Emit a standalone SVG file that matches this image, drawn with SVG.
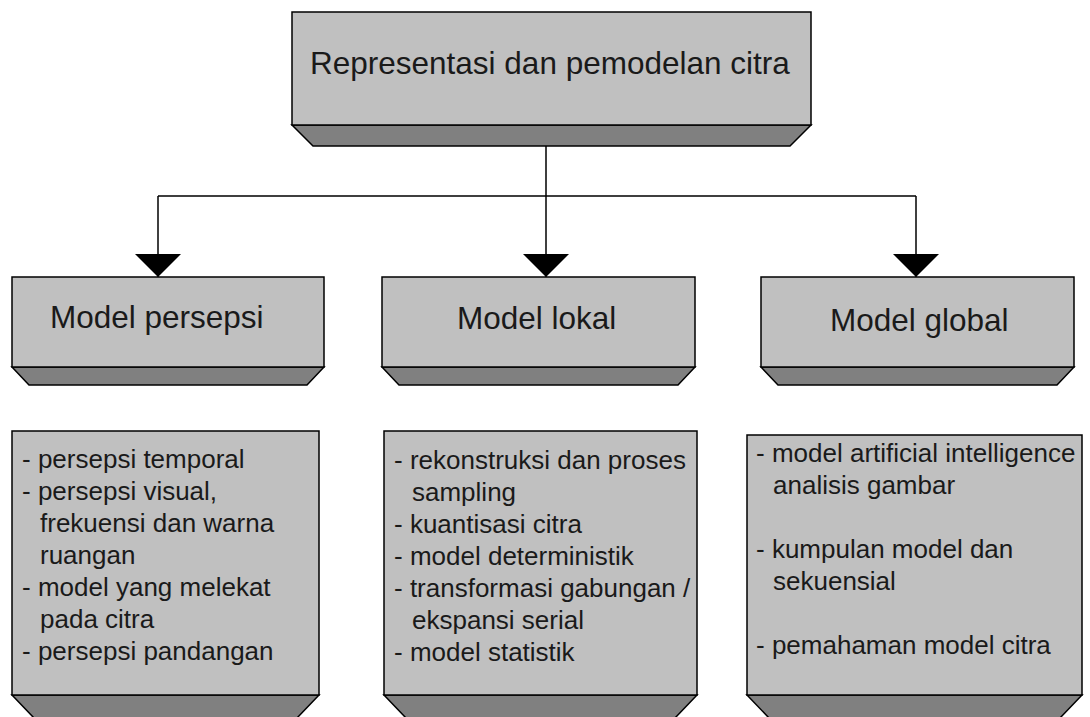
<svg xmlns="http://www.w3.org/2000/svg" width="1090" height="717" viewBox="0 0 1090 717">
  <style>
    .face { fill: #c0c0c0; stroke: #000; stroke-width: 1.5; }
    .bevel { fill: #808080; stroke: #000; stroke-width: 1.5; stroke-linejoin: miter; }
    .title { font-family: "Liberation Sans", Arial, sans-serif; font-size: 31.5px; fill: #1a1a1a; }
    .head { font-family: "Liberation Sans", Arial, sans-serif; font-size: 31.5px; fill: #1a1a1a; }
    .item { font-family: "Liberation Sans", Arial, sans-serif; font-size: 26px; fill: #1a1a1a; }
    .link { fill: none; stroke: #000; stroke-width: 1.5; }
  </style>
  <defs>
    <marker id="arrow" markerUnits="userSpaceOnUse" markerWidth="24" markerHeight="46" viewBox="0 0 24 46" refX="23" refY="23" orient="auto">
      <path d="M0,0 L23,23 L0,46 Z" fill="#000"/>
    </marker>
  </defs>
  <rect width="1090" height="717" fill="#fff"/>

  <!-- root block -->
  <g id="root">
    <polygon class="bevel" points="292,125 811,125 790,146 313,146"/>
    <rect class="face" x="292" y="12" width="519" height="113"/>
    <text class="title" x="310" y="74">Representasi dan pemodelan citra</text>
  </g>

  <!-- connectors -->
  <g id="connectors">
    <path class="link" d="M546,146 V196 M158,196 H916"/>
    <line class="link" x1="158" y1="196" x2="158" y2="277" marker-end="url(#arrow)"/>
    <line class="link" x1="546" y1="196" x2="546" y2="277" marker-end="url(#arrow)"/>
    <line class="link" x1="916" y1="196" x2="916" y2="277" marker-end="url(#arrow)"/>
  </g>

  <!-- second-level blocks -->
  <g id="model-persepsi">
    <polygon class="bevel" points="12,367 324,367 307,385 29,385"/>
    <rect class="face" x="12" y="277" width="312" height="90"/>
    <text class="head" x="50" y="328">Model persepsi</text>
  </g>
  <g id="model-lokal">
    <polygon class="bevel" points="382,367 695,367 678,385 399,385"/>
    <rect class="face" x="382" y="277" width="313" height="90"/>
    <text class="head" x="457" y="329">Model lokal</text>
  </g>
  <g id="model-global">
    <polygon class="bevel" points="761,367 1074,367 1057,385 778,385"/>
    <rect class="face" x="761" y="277" width="313" height="90"/>
    <text class="head" x="830" y="331">Model global</text>
  </g>

  <!-- detail lists -->
  <g id="detail-persepsi">
    <polygon class="bevel" points="12,695 319,695 297,718 34,718"/>
    <rect class="face" x="12" y="431" width="307" height="264"/>
    <text class="item" x="22" y="468">- persepsi temporal</text>
    <text class="item" x="22" y="500">- persepsi visual,</text>
    <text class="item" x="40" y="532">frekuensi dan warna</text>
    <text class="item" x="40" y="564">ruangan</text>
    <text class="item" x="22" y="596">- model yang melekat</text>
    <text class="item" x="40" y="628">pada citra</text>
    <text class="item" x="22" y="660">- persepsi pandangan</text>
  </g>
  <g id="detail-lokal">
    <polygon class="bevel" points="384,695 697,695 675,718 406,718"/>
    <rect class="face" x="384" y="431" width="313" height="264"/>
    <text class="item" x="394" y="469">- rekonstruksi dan proses</text>
    <text class="item" x="412" y="501">sampling</text>
    <text class="item" x="394" y="533">- kuantisasi citra</text>
    <text class="item" x="394" y="565">- model deterministik</text>
    <text class="item" x="394" y="597">- transformasi gabungan /</text>
    <text class="item" x="412" y="629">ekspansi serial</text>
    <text class="item" x="394" y="661">- model statistik</text>
  </g>
  <g id="detail-global">
    <polygon class="bevel" points="747,695 1082,695 1060,718 769,718"/>
    <rect class="face" x="747" y="435" width="335" height="260"/>
    <text class="item" x="756" y="462">- model artificial intelligence</text>
    <text class="item" x="773" y="494">analisis gambar</text>
    <text class="item" x="756" y="558">- kumpulan model dan</text>
    <text class="item" x="773" y="590">sekuensial</text>
    <text class="item" x="756" y="654">- pemahaman model citra</text>
  </g>
</svg>
